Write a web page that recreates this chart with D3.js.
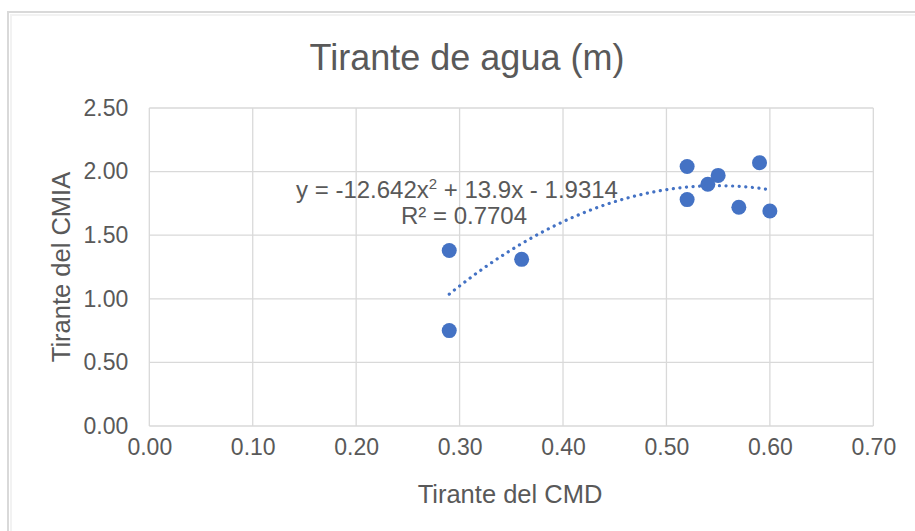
<!DOCTYPE html>
<html>
<head>
<meta charset="utf-8">
<script src="https://cdn.jsdelivr.net/npm/d3@7"></script>
<style>
  html, body { margin: 0; padding: 0; background: #fff; }
  svg { display: block; }
</style>
</head>
<body>
<script>
const width = 915, height = 531;

// data
const cmd  = [0.29, 0.29, 0.36, 0.52, 0.52, 0.54, 0.55, 0.57, 0.59, 0.60];
const cmia = [1.38, 0.75, 1.31, 2.04, 1.78, 1.90, 1.97, 1.72, 2.07, 1.69];
const xTicks = [0, 0.1, 0.2, 0.3, 0.4, 0.5, 0.6, 0.7];
const yTicks = [0, 0.5, 1, 1.5, 2, 2.5];
// polynomial trendline shown on the chart
const coef = [-1.9314, 13.9, -12.642];
const r2 = "0.7704";

const points = cmd.map((d, i) => ({x: d, y: cmia[i]}));
const font = "'Liberation Sans', Arial, sans-serif";
const textColor = "#595959";
const gridColor = "#d9d9d9";
const blue = "#4472c4";

const x = d3.scaleLinear().domain([0, 0.7]).range([149.3, 873.3]);
const y = d3.scaleLinear().domain([0, 2.5]).range([426, 108]);

const svg = d3.select("body").append("svg")
    .attr("width", width)
    .attr("height", height)
    .attr("font-family", font);

// chart border (with a faint inner shadow line)
svg.append("rect")
    .attr("x", 8).attr("y", 12)
    .attr("width", 1000).attr("height", 1000)
    .attr("fill", "#fff")
    .attr("stroke", gridColor)
    .attr("stroke-width", 2);
svg.append("rect")
    .attr("x", 11).attr("y", 15)
    .attr("width", 1000).attr("height", 1000)
    .attr("fill", "none")
    .attr("stroke", "#f2f2f2")
    .attr("stroke-width", 2);

svg.append("text")
    .attr("x", 467)
    .attr("y", 70)
    .attr("text-anchor", "middle")
    .attr("font-size", 36)
    .attr("fill", textColor)
    .text("Tirante de agua (m)");

// gridlines
svg.append("g")
    .attr("stroke", gridColor)
    .attr("stroke-width", 1.3)
  .selectAll("line")
  .data(xTicks)
  .join("line")
    .attr("x1", d => x(d)).attr("x2", d => x(d))
    .attr("y1", y(2.5)).attr("y2", y(0));

svg.append("g")
    .attr("stroke", gridColor)
    .attr("stroke-width", 1.3)
  .selectAll("line")
  .data(yTicks)
  .join("line")
    .attr("x1", x(0)).attr("x2", x(0.7))
    .attr("y1", d => y(d)).attr("y2", d => y(d));

// tick labels via d3 axes, lines hidden
const xAxis = svg.append("g")
    .attr("transform", `translate(0,${y(0)})`)
    .call(d3.axisBottom(x).tickValues(xTicks).tickFormat(d3.format(".2f")).tickSize(0).tickPadding(13));
const yAxis = svg.append("g")
    .attr("transform", `translate(${x(0)},0)`)
    .call(d3.axisLeft(y).tickValues(yTicks).tickFormat(d3.format(".2f")).tickSize(0).tickPadding(21));
[xAxis, yAxis].forEach(a => {
  a.select(".domain").remove();
  a.selectAll("text")
      .attr("font-family", font)
      .attr("font-size", 23)
      .attr("fill", textColor);
});
xAxis.selectAll("text").attr("dy", "0.71em");

svg.append("text")
    .attr("x", 510)
    .attr("y", 503)
    .attr("text-anchor", "middle")
    .attr("font-size", 25.5)
    .attr("fill", textColor)
    .text("Tirante del CMD");

svg.append("text")
    .attr("transform", `translate(70,${(y(0) + y(2.5)) / 2}) rotate(-90)`)
    .attr("text-anchor", "middle")
    .attr("font-size", 25.5)
    .attr("fill", textColor)
    .text("Tirante del CMIA");

// points
svg.append("g")
  .selectAll("circle")
  .data(points)
  .join("circle")
    .attr("cx", d => x(d.x))
    .attr("cy", d => y(d.y))
    .attr("r", 7.5)
    .attr("fill", blue);

// trendline (round-dot)
const poly = v => coef[0] + coef[1] * v + coef[2] * v * v;
const xs = d3.extent(cmd);
const trend = d3.range(xs[0], xs[1] + 1e-9, 0.005).map(v => [v, poly(v)]);
svg.append("path")
    .attr("d", d3.line().x(d => x(d[0])).y(d => y(d[1]))(trend))
    .attr("fill", "none")
    .attr("stroke", blue)
    .attr("stroke-width", 3.2)
    .attr("stroke-linecap", "round")
    .attr("stroke-dasharray", "0.1 6.5");

// equation label
const eq = svg.append("text")
    .attr("x", 457)
    .attr("y", 198)
    .attr("text-anchor", "middle")
    .attr("font-size", 24)
    .attr("fill", textColor);
eq.append("tspan").text(`y = ${coef[2]}x`);
eq.append("tspan").attr("dy", -9).attr("font-size", 15).text("2");
eq.append("tspan").attr("dy", 9).text(` + ${coef[1]}x - ${-coef[0]}`);

svg.append("text")
    .attr("x", 464)
    .attr("y", 224)
    .attr("text-anchor", "middle")
    .attr("font-size", 24)
    .attr("fill", textColor)
    .text(`R² = ${r2}`);
</script>
</body>
</html>
